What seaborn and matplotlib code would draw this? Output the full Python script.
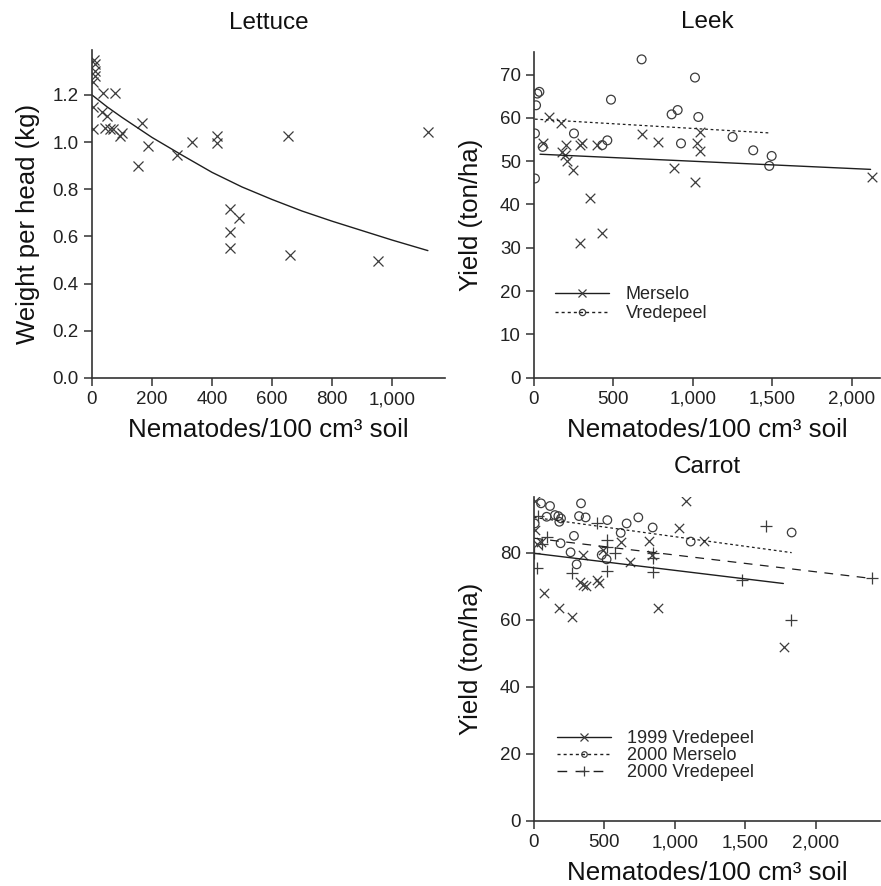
import numpy as np
import pandas as pd
import matplotlib
matplotlib.use("Agg")
import matplotlib.pyplot as plt
from matplotlib.lines import Line2D
from matplotlib.ticker import FuncFormatter, MultipleLocator
import seaborn as sns

# --- Lettuce: weight per head vs nematode density ---
lettuce_x = [7, 10, 10, 10, 4, 4, 38, 77, 32, 49, 4, 45, 60, 71, 93, 99,
             166, 188, 154, 282, 334, 418, 418, 654, 1121, 460, 490, 460, 460, 660, 952]
lettuce_y = [1.35, 1.33, 1.30, 1.28, 1.257, 1.148, 1.21, 1.21, 1.126, 1.112, 1.055, 1.058,
             1.055, 1.055, 1.027, 1.04, 1.079, 0.984, 0.899, 0.945, 0.999, 1.027, 0.998,
             1.027, 1.041, 0.715, 0.677, 0.618, 0.549, 0.523, 0.498]
lettuce_fit_x = [0, 50, 100, 200, 300, 400, 500, 600, 700, 800, 900, 1000, 1120]
lettuce_fit_y = [1.20, 1.15, 1.105, 1.02, 0.945, 0.872, 0.81, 0.757, 0.708, 0.665, 0.625, 0.585, 0.54]

# --- Leek ---
leek_mer_x = [94, 170, 59, 174, 202, 195, 206, 248, 290, 300, 395, 353, 290, 430,
              682, 783, 882, 1014, 1024, 1045, 1045, 2126]
leek_mer_y = [60.2, 58.7, 54.1, 52.2, 53.7, 51.4, 50.1, 47.9, 53.7, 54.3, 53.7, 41.4,
              31.2, 33.3, 56.2, 54.5, 48.5, 45.2, 54.1, 52.3, 56.8, 46.4]
leek_vre_x = [678, 34, 21, 13, 6, 6, 55, 252, 485, 462, 430, 867, 905, 1014, 1035,
              926, 1251, 1381, 1497, 1482]
leek_vre_y = [73.5, 66.0, 65.6, 62.9, 56.4, 46.0, 53.3, 56.4, 64.2, 54.8, 53.7, 60.8,
              61.8, 69.3, 60.2, 54.1, 55.6, 52.5, 51.2, 48.9]
leek_mer_fit_x, leek_mer_fit_y = [38, 2120], [51.6, 48.1]
leek_vre_fit_x, leek_vre_fit_y = [6, 1490], [59.7, 56.5]

# --- Carrot ---
car_v99_x = [1080, 1032, 819, 1210, 618, 682, 346, 327, 350, 369, 445, 462, 73, 180,
             268, 883, 1776, 836, 7, 7, 19, 47, 492]
car_v99_y = [95.5, 87.4, 83.5, 83.5, 83.3, 77.3, 79.3, 71.3, 70.3, 70.1, 71.8, 71.0,
             67.9, 63.4, 60.9, 63.6, 51.8, 79.3, 95.5, 86.7, 82.7, 83.2, 80.8]
car_m00_x = [50, 114, 334, 90, 149, 173, 192, 180, 320, 367, 521, 658, 741, 843, 616,
             284, 189, 260, 303, 481, 516, 1113, 1830, 5]
car_m00_y = [94.7, 93.9, 94.7, 90.7, 91.2, 90.9, 90.2, 89.2, 90.9, 90.5, 89.7, 88.7,
             90.5, 87.5, 85.9, 85.0, 82.8, 80.1, 76.5, 79.3, 78.0, 83.3, 86.0, 88.7]
car_v00_x = [31, 90, 3, 19, 445, 521, 521, 575, 521, 268, 848, 848, 843, 1648, 1475,
             1823, 2398, 60]
car_v00_y = [90.9, 84.7, 80.0, 75.3, 88.7, 83.8, 81.8, 79.8, 74.5, 74.0, 80.0, 78.3,
             74.3, 87.9, 71.8, 59.9, 72.5, 82.5]
car_v99_fit_x, car_v99_fit_y = [0, 1771], [79.8, 70.8]
car_m00_fit_x, car_m00_fit_y = [0, 1830], [90.5, 80.0]
car_v00_fit_x, car_v00_fit_y = [0, 2398], [84.3, 72.3]

XLAB = "Nematodes/100 cm³ soil"
YLAB = "Yield (ton/ha)"
INK, PT = "#1e1e1e", "#3c3c3c"
DOT, DASH = (0, (2.2, 2.2)), (0, (7, 6))

sns.set_style("ticks")
plt.rcParams.update({"font.family": ["Liberation Sans", "DejaVu Sans"], "font.size": 13,
                     "axes.edgecolor": "#333333", "axes.linewidth": 1.2,
                     "xtick.major.size": 6, "ytick.major.size": 6,
                     "xtick.major.width": 1.1, "ytick.major.width": 1.1,
                     "xtick.color": "#333333", "ytick.color": "#333333",
                     "xtick.labelcolor": "#222222", "ytick.labelcolor": "#222222",
                     "xtick.labelsize": 13.5, "ytick.labelsize": 13.5})
TITLE_FONT = ["Liberation Sans Narrow", "Liberation Sans"]


def pts(ax, x, y, marker, s, lw=0.9):
    df = pd.DataFrame({"x": x, "y": y})
    if marker == "o":
        sns.scatterplot(data=df, x="x", y="y", ax=ax, marker="o", s=s, color=PT,
                        facecolor="none", edgecolor=PT, linewidth=lw, legend=False)
    else:
        sns.scatterplot(data=df, x="x", y="y", ax=ax, marker=marker, s=s, color=PT,
                        linewidth=lw, legend=False)


def fit(ax, x, y, ls="-", lw=1.0):
    sns.lineplot(x=x, y=y, ax=ax, color=INK, lw=lw, linestyle=ls, legend=False)


def style(ax, title, ylab, xmax, ymax, xstep, ystep, yfmt, tpad):
    sns.despine(ax=ax)
    ax.set_xlim(0, xmax); ax.set_ylim(0, ymax)
    ax.xaxis.set_major_locator(MultipleLocator(xstep))
    ax.yaxis.set_major_locator(MultipleLocator(ystep))
    ax.xaxis.set_major_formatter(FuncFormatter(lambda v, _: f"{v:,.0f}"))
    ax.yaxis.set_major_formatter(FuncFormatter(yfmt))
    ax.set_title(title, fontsize=17.5, family=TITLE_FONT, pad=tpad, color="#111111")
    ax.set_xlabel(XLAB, fontsize=18.7, color="#111111")
    ax.set_ylabel(ylab, fontsize=18.5, color="#111111")
    ax.xaxis.label.set_va("center"); ax.yaxis.label.set_va("center")
    ax.xaxis.set_label_coords(0.5, -0.16)
    ax.yaxis.set_label_coords(-0.183, 0.5)


def legend(ax, entries, x0, yc, sp):
    handles = [Line2D([], [], color=INK, lw=1.0, linestyle=ls, marker=m, markersize=ms,
                      markerfacecolor="none", markeredgecolor=PT, markeredgewidth=0.9)
               for ls, m, ms in entries[1]]
    ax.legend(handles, entries[0], loc="center left", bbox_to_anchor=(x0, yc),
              frameon=False, fontsize=13, handlelength=3.0, handletextpad=0.9,
              labelspacing=sp, borderpad=0, borderaxespad=0, numpoints=1)


fig = plt.figure(figsize=(8.81, 8.86), dpi=100)
ax_l = fig.add_axes([0.1044, 0.5734, 0.4007, 0.370])
ax_k = fig.add_axes([0.6061, 0.5737, 0.3927, 0.3676])
ax_c = fig.add_axes([0.6061, 0.0734, 0.3927, 0.3657])

# Lettuce
pts(ax_l, lettuce_x, lettuce_y, "x", 52)
fit(ax_l, lettuce_fit_x, lettuce_fit_y)
style(ax_l, "Lettuce", "Weight per head (kg)", 1177, 1.39, 200, 0.2,
      lambda v, _: f"{v:.1f}", 15)
ax_l.yaxis.set_label_coords(-0.181, 0.47)

# Leek
pts(ax_k, leek_mer_x, leek_mer_y, "x", 48)
pts(ax_k, leek_vre_x, leek_vre_y, "o", 40)
fit(ax_k, leek_mer_fit_x, leek_mer_fit_y)
fit(ax_k, leek_vre_fit_x, leek_vre_fit_y, ls=DOT, lw=0.9)
style(ax_k, "Leek", YLAB, 2179, 75.2, 500, 10, lambda v, _: f"{v:.0f}", 17)
legend(ax_k, (["Merselo", "Vredepeel"], [("-", "x", 5.5), (DOT, "o", 4.5)]),
       0.061, 0.226, 0.1)

# Carrot
pts(ax_c, car_v99_x, car_v99_y, "x", 45)
pts(ax_c, car_m00_x, car_m00_y, "o", 38)
pts(ax_c, car_v00_x, car_v00_y, "+", 70)
fit(ax_c, car_v99_fit_x, car_v99_fit_y)
fit(ax_c, car_m00_fit_x, car_m00_fit_y, ls=DOT, lw=0.9)
fit(ax_c, car_v00_fit_x, car_v00_fit_y, ls=DASH, lw=0.9)
style(ax_c, "Carrot", YLAB, 2457, 96.6, 500, 20, lambda v, _: f"{v:.0f}", 17)
legend(ax_c, (["1999 Vredepeel", "2000 Merselo", "2000 Vredepeel"],
              [("-", "x", 5.5), (DOT, "o", 4.0), (DASH, "+", 7.5)]), 0.066, 0.2015, 0.0)

fig.savefig("out.png", dpi=100)
